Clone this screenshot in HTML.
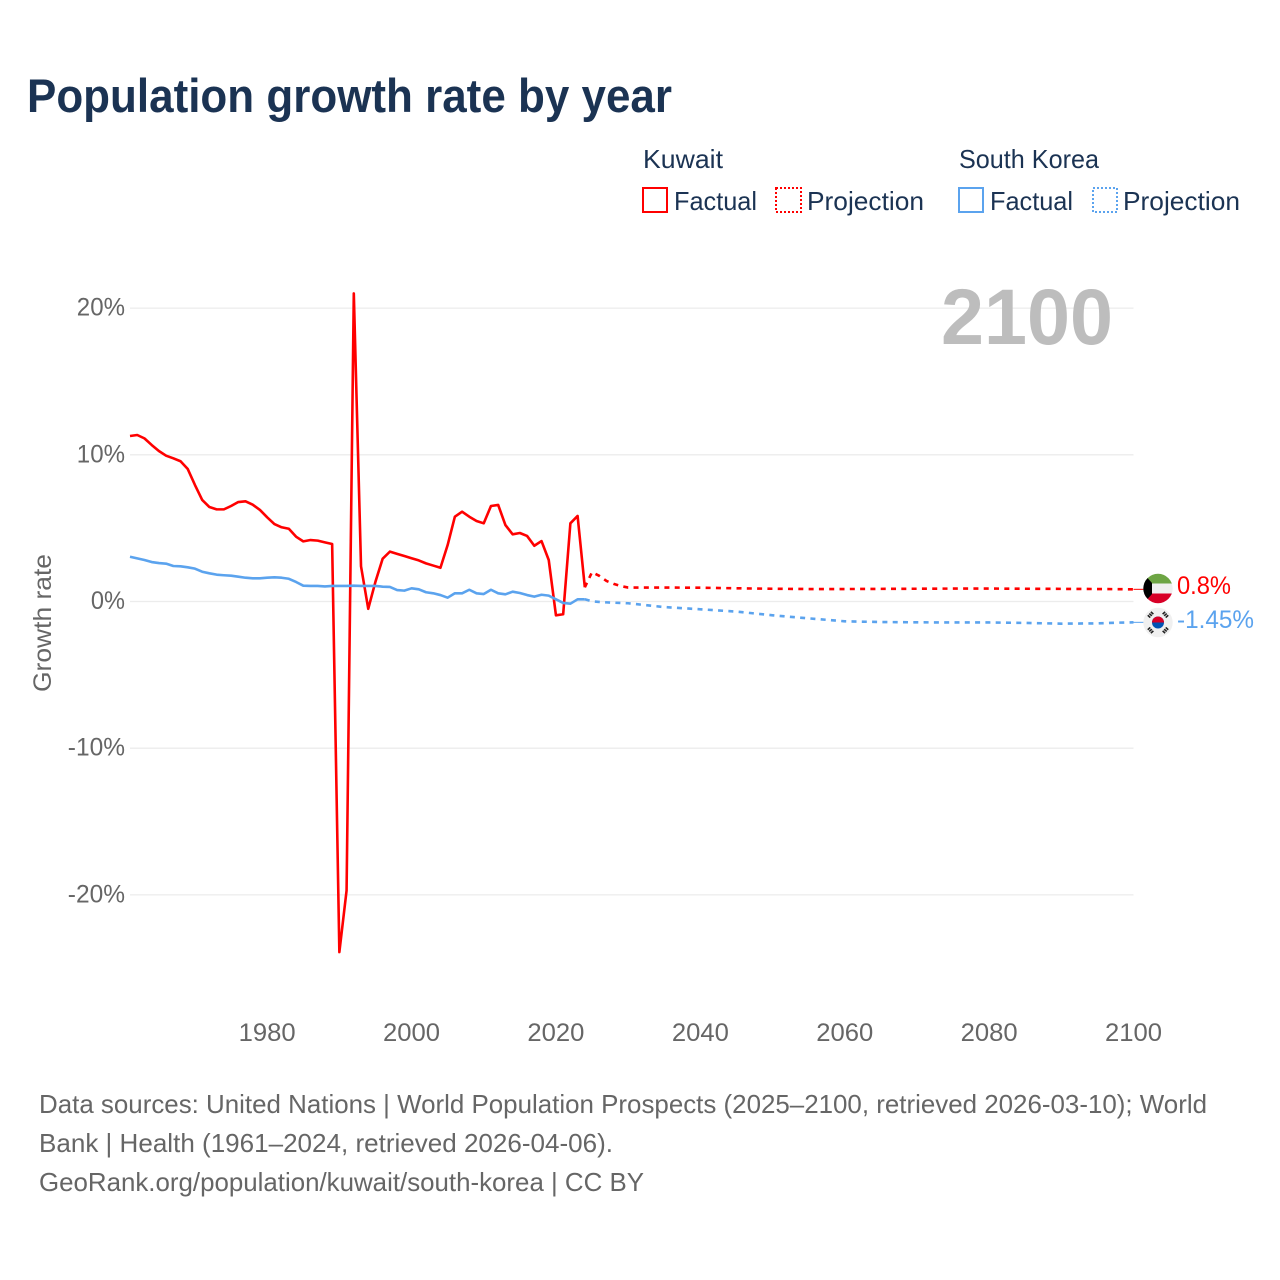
<!DOCTYPE html>
<html lang="en">
<head>
<meta charset="utf-8">
<title>Population growth rate by year</title>
<style>
html,body{margin:0;padding:0;background:#fff;}
svg{display:block;font-family:"Liberation Sans",Arial,sans-serif;}
.navy{fill:#1b3353;}
.gray{fill:#666;}
</style>
</head>
<body>
<svg id="chart" xmlns="http://www.w3.org/2000/svg" width="1280" height="1280" viewBox="0 0 1280 1280">
  <rect x="0" y="0" width="1280" height="1280" fill="#fff"/>
  <text class="navy" x="27" y="112" font-size="47" font-weight="700" textLength="645" lengthAdjust="spacingAndGlyphs">Population growth rate by year</text>

  <g>
    <text class="navy" x="643" y="168" font-size="26" textLength="80" lengthAdjust="spacingAndGlyphs">Kuwait</text>
    <text class="navy" x="959" y="168" font-size="26" textLength="140" lengthAdjust="spacingAndGlyphs">South Korea</text>
    <g>
      <rect x="643" y="188" width="24" height="24" fill="none" stroke="#ff0000" stroke-width="2"/>
      <text class="navy" x="674" y="210" font-size="26" textLength="83" lengthAdjust="spacingAndGlyphs">Factual</text>
    </g>
    <g>
      <rect x="776" y="188" width="25" height="24" fill="none" stroke="#ff0000" stroke-width="2" stroke-dasharray="2 2"/>
      <text class="navy" x="807" y="210" font-size="26" textLength="117" lengthAdjust="spacingAndGlyphs">Projection</text>
    </g>
    <g>
      <rect x="959" y="188" width="24" height="24" fill="none" stroke="#5ba3ee" stroke-width="2"/>
      <text class="navy" x="990" y="210" font-size="26" textLength="83" lengthAdjust="spacingAndGlyphs">Factual</text>
    </g>
    <g>
      <rect x="1093" y="188" width="24" height="24" fill="none" stroke="#5ba3ee" stroke-width="2" stroke-dasharray="2 2"/>
      <text class="navy" x="1123" y="210" font-size="26" textLength="117" lengthAdjust="spacingAndGlyphs">Projection</text>
    </g>
  </g>

  <g id="grid"></g>
  <text x="941" y="344" font-size="79" font-weight="700" fill="#bdbdbd" textLength="172" lengthAdjust="spacingAndGlyphs">2100</text>
  <g id="yticks"></g>
  <g id="xticks"></g>
  <text class="gray" transform="translate(51,692) rotate(-90)" font-size="25" textLength="138" lengthAdjust="spacingAndGlyphs">Growth rate</text>
  <g id="series"></g>

  <defs>
    <clipPath id="kw-clip"><circle cx="1158" cy="588.5" r="14.7"/></clipPath>
    <clipPath id="kr-clip"><circle cx="1158" cy="622.5" r="14.7"/></clipPath>
  </defs>
  <g clip-path="url(#kw-clip)">
    <rect x="1143" y="573" width="30" height="11" fill="#6da544"/>
    <rect x="1143" y="583.5" width="30" height="10" fill="#f0f0f0"/>
    <rect x="1143" y="593.5" width="30" height="11" fill="#d80027"/>
    <polygon points="1143,573 1152,583 1152,594 1143,604" fill="#000"/>
  </g>
  <g clip-path="url(#kr-clip)">
    <rect x="1143" y="607" width="30" height="31" fill="#f0f0f0"/>
    <circle cx="1158" cy="622.5" r="6" fill="#0052b4"/>
    <path d="M1152 622.5a6 6 0 0 1 12 0z" fill="#d80027"/>
    <g stroke="#222" stroke-width="3.4" stroke-dasharray="1.6 .7">
      <line x1="1148.5" y1="617" x2="1153" y2="612"/>
      <line x1="1167.5" y1="617" x2="1163" y2="612"/>
      <line x1="1148.5" y1="628" x2="1153" y2="633"/>
      <line x1="1167.5" y1="628" x2="1163" y2="633"/>
    </g>
  </g>
  <text x="1177" y="594" font-size="25" fill="#ff0000" textLength="54" lengthAdjust="spacingAndGlyphs">0.8%</text>
  <text x="1177" y="628" font-size="25" fill="#5ba3ee" textLength="77" lengthAdjust="spacingAndGlyphs">-1.45%</text>

  <g>
    <text class="gray" x="39" y="1113" font-size="26" textLength="1168" lengthAdjust="spacingAndGlyphs">Data sources: United Nations | World Population Prospects (2025–2100, retrieved 2026-03-10); World</text>
    <text class="gray" x="39" y="1152" font-size="26" textLength="574" lengthAdjust="spacingAndGlyphs">Bank | Health (1961–2024, retrieved 2026-04-06).</text>
    <text class="gray" x="39" y="1191" font-size="26" textLength="605" lengthAdjust="spacingAndGlyphs">GeoRank.org/population/kuwait/south-korea | CC BY</text>
  </g>
</svg>
<script>
const factualYears = [1961,1962,1963,1964,1965,1966,1967,1968,1969,1970,1971,1972,1973,1974,1975,1976,1977,1978,1979,1980,1981,1982,1983,1984,1985,1986,1987,1988,1989,1990,1991,1992,1993,1994,1995,1996,1997,1998,1999,2000,2001,2002,2003,2004,2005,2006,2007,2008,2009,2010,2011,2012,2013,2014,2015,2016,2017,2018,2019,2020,2021,2022,2023,2024];
const kuwaitFactual = [11.28,11.35,11.12,10.67,10.26,9.94,9.76,9.56,9.03,7.94,6.92,6.44,6.28,6.28,6.51,6.78,6.83,6.6,6.24,5.74,5.28,5.06,4.96,4.42,4.1,4.19,4.15,4.03,3.92,-23.9,-19.7,21.0,2.4,-0.5,1.35,2.92,3.4,3.25,3.1,2.95,2.8,2.6,2.45,2.3,3.85,5.78,6.12,5.78,5.49,5.33,6.51,6.58,5.21,4.58,4.67,4.47,3.8,4.12,2.83,-0.94,-0.87,5.33,5.83,0.97];
const koreaFactual = [3.05,2.94,2.83,2.69,2.62,2.58,2.42,2.4,2.33,2.24,2.03,1.92,1.83,1.79,1.76,1.69,1.62,1.58,1.58,1.62,1.65,1.62,1.55,1.33,1.08,1.06,1.06,1.03,1.06,1.06,1.06,1.08,1.06,1.06,1.06,1.01,0.99,0.78,0.74,0.9,0.83,0.63,0.56,0.44,0.26,0.56,0.56,0.8,0.56,0.51,0.8,0.56,0.49,0.67,0.58,0.44,0.33,0.46,0.4,0.15,-0.1,-0.15,0.15,0.15];
const projectionYears = [2024,2025,2026,2027,2028,2029,2030,2035,2040,2045,2050,2055,2060,2065,2070,2075,2080,2085,2090,2095,2098,2100];
const kuwaitProjection = [0.97,2.0,1.75,1.4,1.2,1.05,0.95,0.95,0.94,0.9,0.87,0.85,0.85,0.86,0.87,0.88,0.88,0.87,0.86,0.85,0.84,0.83];
const koreaProjection = [0.15,0.01,-0.03,-0.06,-0.08,-0.1,-0.12,-0.38,-0.53,-0.69,-0.94,-1.15,-1.35,-1.4,-1.42,-1.43,-1.43,-1.46,-1.51,-1.49,-1.44,-1.42];
const yTickValues = [20,10,0,-10,-20];
const yTickLabels = ['20%','10%','0%','-10%','-20%'];
const xTickValues = [1980,2000,2020,2040,2060,2080,2100];
const xTickLabels = ['1980','2000','2020','2040','2060','2080','2100'];

const SVGNS = 'http://www.w3.org/2000/svg';
const xScale = function (year) { return 130 + (year - 1961) * (1133.5 - 130) / (2100 - 1961); };
const yScale = function (value) { return 601.5 - value * 14.67; };
const labelWidth = function (s) {
  let w = 0;
  for (const c of s) { w += c === '%' ? 20 : (c === '-' ? 9 : 14.1); }
  return w;
};
const pathFrom = function (years, values) {
  return years.map(function (yr, i) {
    return (i ? 'L' : 'M') + xScale(yr).toFixed(2) + ' ' + yScale(values[i]).toFixed(2);
  }).join(' ');
};

const grid = document.getElementById('grid');
const yticks = document.getElementById('yticks');
const xticks = document.getElementById('xticks');
const series = document.getElementById('series');

yTickValues.forEach(function (v, i) {
  const ln = document.createElementNS(SVGNS, 'line');
  
  
  ln.setAttribute('x1', xScale(1961));
  ln.setAttribute('x2', xScale(2100));
  ln.setAttribute('y1', yScale(v));
  ln.setAttribute('y2', yScale(v));
  ln.setAttribute('stroke', '#ececec');
  ln.setAttribute('stroke-width', '1.3');
  grid.appendChild(ln);

  const t = document.createElementNS(SVGNS, 'text');
  
  
  t.setAttribute('class', 'gray');
  t.setAttribute('x', 125);
  t.setAttribute('y', yScale(v) + 7.5);
  t.setAttribute('font-size', '25');
  t.setAttribute('text-anchor', 'end');
  t.setAttribute('textLength', labelWidth(yTickLabels[i]));
  t.setAttribute('lengthAdjust', 'spacingAndGlyphs');
  t.textContent = yTickLabels[i];
  yticks.appendChild(t);
});

xTickValues.forEach(function (yr, i) {
  const t = document.createElementNS(SVGNS, 'text');
  
  
  t.setAttribute('class', 'gray');
  t.setAttribute('x', xScale(yr));
  t.setAttribute('y', 1041);
  t.setAttribute('font-size', '25');
  t.setAttribute('text-anchor', 'middle');
  t.setAttribute('textLength', '57');
  t.setAttribute('lengthAdjust', 'spacingAndGlyphs');
  t.textContent = xTickLabels[i];
  xticks.appendChild(t);
});

const addLine = function (d, color, dash, name) {
  const p = document.createElementNS(SVGNS, 'path');
  
  
  p.setAttribute('d', d);
  p.setAttribute('fill', 'none');
  p.setAttribute('stroke', color);
  p.setAttribute('stroke-width', '2.6');
  p.setAttribute('stroke-linejoin', 'round');
  if (dash) { p.setAttribute('stroke-dasharray', dash); }
  series.appendChild(p);
};
const RED = '#ff0000';
const BLUE = '#5ba3ee';
addLine(pathFrom(projectionYears, kuwaitProjection), RED, '5 5.3', 'kuwait-projection-line');
addLine(pathFrom(factualYears, kuwaitFactual), RED, '', 'kuwait-factual-line');
addLine(pathFrom(projectionYears, koreaProjection), BLUE, '5 5.3', 'korea-projection-line');
addLine(pathFrom(factualYears, koreaFactual), BLUE, '', 'korea-factual-line');

const lastYear = projectionYears[projectionYears.length - 1];
const addLeader = function (value, color, name) {
  const ln = document.createElementNS(SVGNS, 'line');
  
  
  ln.setAttribute('x1', xScale(lastYear));
  ln.setAttribute('x2', xScale(lastYear) + 10);
  ln.setAttribute('y1', yScale(value));
  ln.setAttribute('y2', yScale(value));
  ln.setAttribute('stroke', color);
  ln.setAttribute('stroke-width', '1');
  series.appendChild(ln);
};
addLeader(kuwaitProjection[kuwaitProjection.length - 1], RED, 'kuwait-flag-leader');
addLeader(koreaProjection[koreaProjection.length - 1], BLUE, 'korea-flag-leader');
</script>
</body>
</html>
